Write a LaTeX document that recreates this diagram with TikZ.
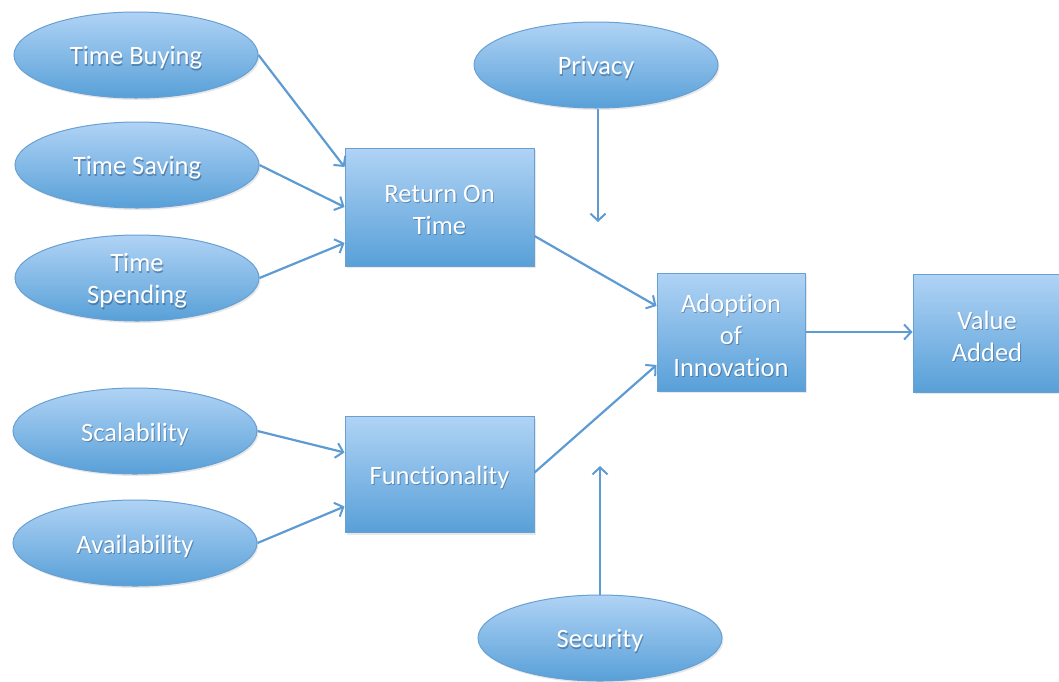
\documentclass[tikz,border=0pt]{standalone}
\usepackage{fontspec}
\setmainfont[Ligatures=NoCommon]{Carlito}
\usetikzlibrary{shapes.geometric,arrows.meta,shadows}

\definecolor{fillTop}{RGB}{176,211,245}
\definecolor{fillBot}{RGB}{88,160,216}
\definecolor{edgeBlue}{RGB}{104,160,212}
\definecolor{lineBlue}{RGB}{94,155,211}
\definecolor{glyphShade}{RGB}{40,70,110}

\tikzset{
  base/.style={draw=edgeBlue, line width=1pt, top color=fillTop, bottom color=fillBot,
    inner sep=0pt,
    drop shadow={opacity=0.18, shadow xshift=1.5pt, shadow yshift=-2pt}},
  oval/.style={base, ellipse, minimum width=244pt, minimum height=86pt},
  block/.style={base, rectangle, minimum width=189pt, minimum height=118pt},
  sqblock/.style={base, rectangle, minimum width=148pt, minimum height=118pt},
  caption/.style={text=white, font=\fontsize{26.5}{32}\selectfont, align=center,
    inner sep=0pt, yshift=-3pt},
  captionshade/.style={caption, text=glyphShade, opacity=0.45, xshift=0.9pt, yshift=-1.2pt},
  link/.style={draw=lineBlue, line width=2.2pt,
    -{Straight Barb[length=7pt,width=15pt,line width=2pt]}}
}

% a shape node #2 of style #1 at #3, with white shadowed text #4
\newcommand\figitem[4]{%
  \node[#1] (#2) at (#3) {};
  \node[captionshade] (#2-shade) at (#2.center) {#4};
  \node[caption] (#2-text) at (#2.center) {#4};
}

\begin{document}
\begin{tikzpicture}[x=1pt,y=-1pt]
  \useasboundingbox (0,0) rectangle (1059,681);

  % factor ellipses
  \figitem{oval}{tb}{136,55}{Time Buying}
  \figitem{oval}{ts}{137,165}{Time Saving}
  \figitem{oval}{tsp}{137,278}{Time\\Spending}
  \figitem{oval}{sc}{135,431}{Scalability}
  \figitem{oval}{av}{135,543}{Availability}
  \figitem{oval}{pr}{596,65}{Privacy}
  \figitem{oval}{se}{600,638}{Security}

  % construct boxes
  \figitem{block}{rot}{439.5,207}{Return On\\Time}
  \figitem{block, minimum height=116pt}{fn}{439.5,474.5}{Functionality}
  \figitem{sqblock}{ad}{731,332}{Adoption\\of\\Innovation}
  \figitem{sqblock}{va}{987,333}{Value\\Added}

  % free ends of the moderator arrows
  \coordinate (prEnd) at (598,222);
  \coordinate (seEnd) at (600,466);

  % connectors
  \draw[link] (tb.east)  -- ([yshift=40pt]rot.west);
  \draw[link] (ts.east)  -- (rot.west);
  \draw[link] (tsp.east) -- ([yshift=-36pt]rot.west);
  \draw[link] (sc.east)  -- ([yshift=22pt]fn.west);
  \draw[link] (av.east)  -- ([yshift=-32pt]fn.west);
  \draw[link] ([yshift=-29pt]rot.east) -- ([yshift=26pt]ad.west);
  \draw[link] ([yshift=2pt]fn.east) -- ([yshift=-33pt]ad.west);
  \draw[link] (ad.east) -- (ad.east -| va.west);
  \draw[link] (pr.south -| prEnd) -- (prEnd);
  \draw[link] (se.north -| seEnd) -- (seEnd);
\end{tikzpicture}
\end{document}
